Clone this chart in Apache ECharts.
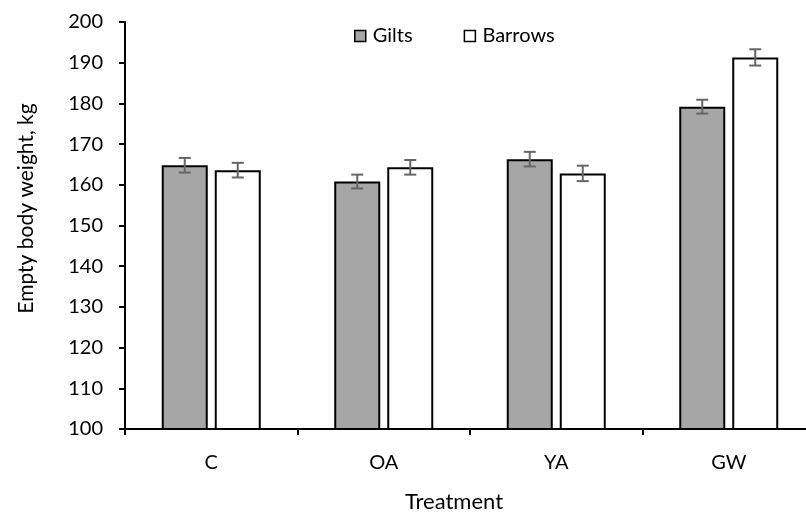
<!DOCTYPE html>
<html>
<head>
<meta charset="utf-8">
<script src="https://cdn.jsdelivr.net/npm/echarts@6/dist/echarts.min.js"></script>
<style>html,body{margin:0;padding:0;background:#fff}#c{width:806px;height:515px}</style>
</head>
<body>
<div id="c"></div>
<script>
var categories = ['C', 'OA', 'YA', 'GW'];
var gilts = [164.8, 160.8, 166.3, 179.2];
var giltsSE = [1.8, 1.7, 1.8, 1.7];
var barrows = [163.6, 164.3, 162.8, 191.3];
var barrowsSE = [1.8, 1.8, 1.9, 2.0];
var yTicks = [100, 110, 120, 130, 140, 150, 160, 170, 180, 190, 200];

var FONT = 'Lato';
var BW = 46, GAP = 7;

function errSeries(vals, ses, offset) {
  return {
    type: 'custom',
    silent: true,
    z: 10,
    data: vals.map(function (v, i) { return [i, v, ses[i]]; }),
    renderItem: function (params, api) {
      var i = api.value(0), v = api.value(1), se = api.value(2);
      var top = api.coord([i, v + se]);
      var bot = api.coord([i, v - se]);
      var x = top[0] + offset;
      var hw = 6;
      var st = { stroke: '#666666', lineWidth: 2 };
      return {
        type: 'group',
        children: [
          { type: 'line', shape: { x1: x, y1: top[1], x2: x, y2: bot[1] }, style: st },
          { type: 'line', shape: { x1: x - hw, y1: top[1], x2: x + hw, y2: top[1] }, style: st },
          { type: 'line', shape: { x1: x - hw, y1: bot[1], x2: x + hw, y2: bot[1] }, style: st }
        ]
      };
    }
  };
}

var chart = echarts.init(document.getElementById('c'), null, { renderer: 'canvas' });
chart.setOption({
  animation: false,
  backgroundColor: '#ffffff',
  textStyle: { fontFamily: FONT },
  legend: {
    top: 21,
    left: 349,
    itemWidth: 11,
    itemHeight: 11,
    itemGap: 51,
    icon: 'rect',
    data: ['Gilts', 'Barrows'],
    itemStyle: { borderWidth: 1.5, borderColor: '#000' },
    textStyle: { fontFamily: FONT, fontSize: 20, color: '#000', padding: [0, 0, 0, 2] }
  },
  grid: { left: 125, right: -9, top: 22, bottom: 86, containLabel: false, outerBoundsMode: 'none' },
  xAxis: {
    type: 'category',
    data: categories,
    name: 'Treatment',
    nameLocation: 'middle',
    nameGap: 62,
    nameMoveOverlap: false,
    nameTextStyle: { fontFamily: FONT, fontSize: 22, color: '#000', padding: [0, 32, 0, 0] },
    axisLine: { lineStyle: { color: '#000', width: 2 } },
    axisTick: { show: true, length: 6, lineStyle: { color: '#000', width: 2 } },
    axisLabel: { margin: 24, fontFamily: FONT, fontSize: 20, color: '#000' }
  },
  yAxis: {
    type: 'value',
    min: 100,
    max: 200,
    interval: 10,
    name: 'Empty body weight, kg',
    nameLocation: 'middle',
    nameGap: 88,
    nameMoveOverlap: false,
    nameTextStyle: { fontFamily: FONT, fontSize: 21, color: '#000', padding: [0, 0, 0, 34] },
    splitLine: { show: false },
    axisLine: { show: true, lineStyle: { color: '#000', width: 2 } },
    axisTick: { show: true, length: 6, lineStyle: { color: '#000', width: 2 } },
    axisLabel: { margin: 22, fontFamily: FONT, fontSize: 20, color: '#000',
      formatter: function (v) { return yTicks.indexOf(v) >= 0 ? String(v) : ''; } }
  },
  series: [
    { name: 'Gilts', type: 'bar', data: gilts, barWidth: BW, barGap: (GAP / BW * 100) + '%',
      itemStyle: { color: '#a6a6a6', borderColor: '#000', borderWidth: 2 } },
    { name: 'Barrows', type: 'bar', data: barrows, barWidth: BW,
      itemStyle: { color: '#ffffff', borderColor: '#000', borderWidth: 2 } },
    errSeries(gilts, giltsSE, -(BW + GAP) / 2),
    errSeries(barrows, barrowsSE, (BW + GAP) / 2)
  ]
});
</script>
</body>
</html>
